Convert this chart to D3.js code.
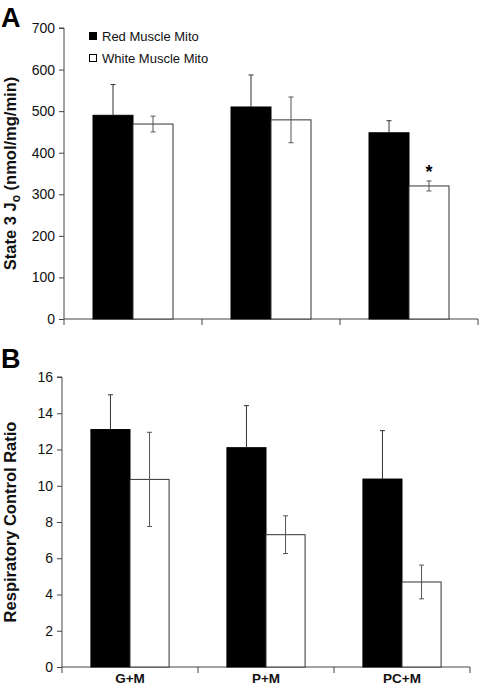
<!DOCTYPE html>
<html><head><meta charset="utf-8">
<script src="https://cdn.jsdelivr.net/npm/d3@7"></script>
<style>body{margin:0;background:#fff}svg{display:block;font-family:Arial,"Liberation Sans",sans-serif}</style>
</head><body><svg id="c" width="480" height="686"></svg>
<script>
const categories = ["G+M", "P+M", "PC+M"];
const series = ["Red Muscle Mito", "White Muscle Mito"];
const stateRed = [490, 510, 448];
const stateRedErr = [74, 77, 29];
const stateWhite = [469, 479, 320];
const stateWhiteErr = [19, 55, 12];
const rcrRed = [13.1, 12.1, 10.37];
const rcrRedErr = [1.92, 2.32, 2.67];
const rcrWhite = [10.35, 7.3, 4.69];
const rcrWhiteErr = [2.6, 1.04, 0.93];
const stateTicks = [0, 100, 200, 300, 400, 500, 600, 700];
const rcrTicks = [0, 2, 4, 6, 8, 10, 12, 14, 16];
const significant = [false, false, true]; // white vs red, panel A

const svg = d3.select("#c");
const fills = ["#000", "#fff"];
const errColors = ["#333", "#555"];

function panel(o) {
  const g = svg.append("g");
  const x0 = d3.scaleBand().domain(categories).range([o.left, o.right]).padding(0);
  const x1 = d3.scaleBand().domain(series).range([0, x0.bandwidth()]).paddingInner(0).paddingOuter(o.pad);
  const y = d3.scaleLinear().domain([0, o.max]).range([o.bottom, o.top]);

  const ya = d3.axisLeft(y).tickValues(o.ticks).tickSize(5).tickPadding(4).tickFormat(d3.format("d"));
  const yg = g.append("g").attr("transform", `translate(${o.left},0)`).call(ya);
  yg.select(".domain").attr("stroke", "#444").attr("d", `M-5,${o.top}H0V${o.bottom}`);
  yg.selectAll(".tick line").attr("stroke", "#444");
  yg.selectAll(".tick text").attr("font-size", 14).attr("fill", "#111").attr("font-family", "Arial, 'Liberation Sans', sans-serif");

  g.append("line").attr("x1", o.left).attr("x2", o.right).attr("y1", o.bottom).attr("y2", o.bottom).attr("stroke", "#444");
  const edges = categories.map(c => x0(c)).concat([x0(categories[categories.length-1]) + x0.bandwidth()]);
  g.selectAll(".xt").data(edges).join("line").attr("class", "xt")
    .attr("x1", d => d).attr("x2", d => d).attr("y1", o.bottom).attr("y2", o.bottom + 6).attr("stroke", "#444");

  const data = [];
  categories.forEach((c, i) => {
    data.push({c, s: series[0], v: o.red[i], e: o.redErr[i], k: 0});
    data.push({c, s: series[1], v: o.white[i], e: o.whiteErr[i], k: 1});
  });
  g.selectAll(".bar").data(data).join("rect").attr("class", "bar")
    .attr("x", d => x0(d.c) + x1(d.s)).attr("width", x1.bandwidth())
    .attr("y", d => y(d.v)).attr("height", d => y(0) - y(d.v))
    .attr("fill", d => fills[d.k]).attr("stroke", d => d.k ? "#333" : "#000").attr("stroke-width", 1);

  const eg = g.selectAll(".err").data(data).join("g").attr("class", "err")
    .attr("stroke", d => errColors[d.k]).attr("stroke-width", 1);
  eg.append("line")
    .attr("x1", d => x0(d.c) + x1(d.s) + x1.bandwidth()/2).attr("x2", d => x0(d.c) + x1(d.s) + x1.bandwidth()/2)
    .attr("y1", d => d.k ? y(d.v - d.e) : y(d.v)).attr("y2", d => y(d.v + d.e));
  eg.append("line")
    .attr("x1", d => x0(d.c) + x1(d.s) + x1.bandwidth()/2 - 2.5).attr("x2", d => x0(d.c) + x1(d.s) + x1.bandwidth()/2 + 2.5)
    .attr("y1", d => y(d.v + d.e)).attr("y2", d => y(d.v + d.e));
  eg.filter(d => d.k === 1).append("line")
    .attr("x1", d => x0(d.c) + x1(d.s) + x1.bandwidth()/2 - 2.5).attr("x2", d => x0(d.c) + x1(d.s) + x1.bandwidth()/2 + 2.5)
    .attr("y1", d => y(d.v - d.e)).attr("y2", d => y(d.v - d.e));

  return {g, x0, x1, y};
}

const A = panel({left: 64, right: 478, top: 28, bottom: 319, max: 700, pad: 0.725, ticks: stateTicks,
  red: stateRed, redErr: stateRedErr, white: stateWhite, whiteErr: stateWhiteErr});
const B = panel({left: 62, right: 470, top: 377, bottom: 667, max: 16, pad: 0.74, ticks: rcrTicks,
  red: rcrRed, redErr: rcrRedErr, white: rcrWhite, whiteErr: rcrWhiteErr});

categories.forEach((c, i) => {
  if (!significant[i]) return;
  A.g.append("text").attr("x", A.x0(c) + A.x1(series[1]) + A.x1.bandwidth()/2)
    .attr("y", A.y(stateWhite[i] + stateWhiteErr[i]) - 3)
    .attr("text-anchor", "middle").attr("font-size", 18).attr("font-weight", "bold").text("*");
});

B.g.selectAll(".cl").data(categories).join("text").attr("class", "cl")
  .attr("x", d => B.x0(d) + B.x0.bandwidth()/2).attr("y", 683)
  .attr("text-anchor", "middle").attr("font-size", 13.5).attr("font-weight", "bold").attr("fill", "#111").text(d => d);

const lg = svg.append("g");
series.forEach((s, i) => {
  lg.append("rect").attr("x", 89.5).attr("y", 32.5 + i*22).attr("width", 7).attr("height", 7)
    .attr("fill", fills[i]).attr("stroke", "#000");
  lg.append("text").attr("x", 102).attr("y", 41 + i*22).attr("font-size", 13).attr("fill", "#111").text(s);
});

const la = svg.append("text").attr("transform", `translate(16,${(28+319)/2}) rotate(-90)`)
  .attr("text-anchor", "middle").attr("font-size", 16.5).attr("font-weight", "bold").attr("fill", "#111");
la.append("tspan").text("State 3 J");
la.append("tspan").attr("font-size", 12).attr("dy", 4).text("o");
la.append("tspan").attr("dy", -4).text(" (nmol/mg/min)");

svg.append("text").attr("transform", `translate(16,${(377+667)/2}) rotate(-90)`)
  .attr("text-anchor", "middle").attr("font-size", 16.5).attr("font-weight", "bold").attr("fill", "#111")
  .text("Respiratory Control Ratio");

svg.append("text").attr("x", 1).attr("y", 27).attr("font-size", 27).attr("font-weight", "bold").text("A");
svg.append("text").attr("x", 1).attr("y", 368).attr("font-size", 27).attr("font-weight", "bold").text("B");
</script></body></html>
